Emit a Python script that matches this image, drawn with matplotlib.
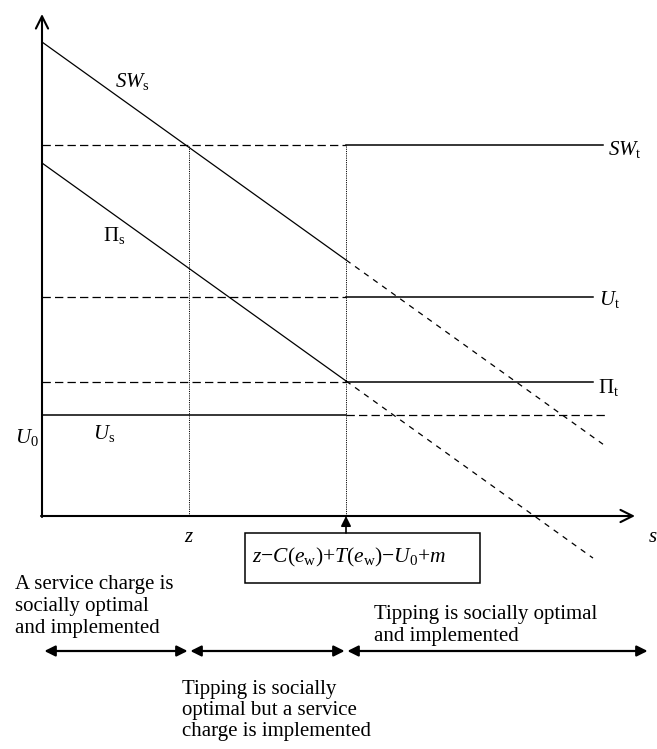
import numpy as np
import matplotlib
matplotlib.use("Agg")
import matplotlib.pyplot as plt
from matplotlib.patches import Rectangle

plt.rcParams['font.family'] = 'Liberation Serif'
plt.rcParams['mathtext.fontset'] = 'custom'
plt.rcParams['mathtext.rm'] = 'Liberation Serif'
plt.rcParams['mathtext.it'] = 'Liberation Serif:italic'
plt.rcParams['lines.scale_dashes'] = False

# model values (s on horizontal axis, payoff on vertical axis)
z = 147            # service charge threshold
s_star = 304       # z - C(e_w) + T(e_w) - U0 + m
slope = -0.717
SW_s_0 = 474       # intercept of SW_s
Pi_s_0 = 353       # intercept of Pi_s
SW_s_end = 561
Pi_s_end = 551
SW_t = 371
U_t = 219
Pi_t = 134
U_0 = 101
flat_end = [561, 551, 551, 563]   # SW_t, U_t, Pi_t, U0 right ends

regions = ["A service charge is\nsocially optimal\nand implemented",
           "Tipping is socially\noptimal but a service\ncharge is implemented",
           "Tipping is socially optimal\nand implemented"]
box_label = r"$z{-}C(e_{\mathrm{w}}){+}T(e_{\mathrm{w}}){-}U_0{+}m$"

fig = plt.figure(figsize=(6.57, 7.49), dpi=100)
ax = fig.add_axes([0, 0, 1, 1])
ax.set_xlim(-42, 615)
ax.set_ylim(-233, 516)
ax.axis('off')

k = 'black'
fs = 15

# axes with open arrowheads
ax.annotate('', xy=(0, 502), xytext=(0, -1),
            arrowprops=dict(arrowstyle='->', lw=1.5, color=k, mutation_scale=22, shrinkA=0, shrinkB=0))
ax.annotate('', xy=(593, 0), xytext=(-1, 0),
            arrowprops=dict(arrowstyle='->', lw=1.5, color=k, mutation_scale=22, shrinkA=0, shrinkB=0))

dash = (0, (6, 3))
sdash = (0, (4, 4))
dot = (0, (0.8, 0.8))

# sloped lines: solid up to s_star, dashed after
def line(s0, s1, b):
    s = np.array([s0, s1])
    return s, b + slope * s

x, y = line(0, s_star, SW_s_0)
ax.plot(x, y, color=k, lw=0.9)
x, y = line(s_star, SW_s_end, SW_s_0)
ax.plot(x, y, color=k, lw=0.9, linestyle=sdash)
x, y = line(0, s_star, Pi_s_0)
ax.plot(x, y, color=k, lw=0.9)
x, y = line(s_star, Pi_s_end, Pi_s_0)
ax.plot(x, y, color=k, lw=0.9, linestyle=sdash)

# horizontal levels
for lev, end in zip([SW_t, U_t, Pi_t], flat_end[:3]):
    ax.plot([0, s_star], [lev, lev], color=k, lw=0.9, linestyle=dash)
    ax.plot([s_star, end], [lev, lev], color=k, lw=1.1)
ax.plot([0, s_star], [U_0, U_0], color=k, lw=1.1)
ax.plot([s_star, flat_end[3]], [U_0, U_0], color=k, lw=0.9, linestyle=dash)

# dotted verticals
ax.plot([z, z], [0, SW_t], color=k, lw=0.7, linestyle=dot)
ax.plot([s_star, s_star], [0, SW_t], color=k, lw=0.7, linestyle=dot)

# curve labels
ax.text(73, 434, r"$SW_{\mathrm{s}}$", fontsize=fs, va='center', ha='left')
ax.text(61, 281, r"$\Pi_{\mathrm{s}}$", fontsize=fs, va='center', ha='left')
ax.text(566, 366, r"$SW_{\mathrm{t}}$", fontsize=fs, va='center', ha='left')
ax.text(557, 216, r"$U_{\mathrm{t}}$", fontsize=fs, va='center', ha='left')
ax.text(556, 129, r"$\Pi_{\mathrm{t}}$", fontsize=fs, va='center', ha='left')
ax.text(-27, 79, r"$U_0$", fontsize=fs, va='center', ha='left')
ax.text(51, 83, r"$U_{\mathrm{s}}$", fontsize=fs, va='center', ha='left')
ax.text(z, -21, r"$z$", fontsize=fs, va='center', ha='center')
ax.text(606, -21, r"$s$", fontsize=fs, va='center', ha='left')

# threshold box and arrow
ax.add_patch(Rectangle((203, -67), 235, 50, fc='white', ec=k, lw=1.1))
ax.text(210, -41, box_label, fontsize=15.5, ha='left', va='center')
ax.annotate('', xy=(s_star, 0), xytext=(s_star, -17),
            arrowprops=dict(arrowstyle='-|>', lw=1.2, color=k, mutation_scale=15, shrinkA=0, shrinkB=0))

# region arrows
ay = -135
bounds = [1, z, s_star, 607]
for a, b in zip(bounds[:-1], bounds[1:]):
    ax.annotate('', xy=(b, ay), xytext=(a, ay),
                arrowprops=dict(arrowstyle='<|-|>', lw=1.6, color=k, mutation_scale=16,
                                shrinkA=1, shrinkB=1))

ax.text(-27, -59, regions[0], fontsize=fs, ha='left', va='top', linespacing=1.22)
ax.text(140, -164, regions[1], fontsize=fs, ha='left', va='top', linespacing=1.15)
ax.text(332, -89, regions[2], fontsize=fs, ha='left', va='top', linespacing=1.22)

fig.savefig("out.png", dpi=100)
